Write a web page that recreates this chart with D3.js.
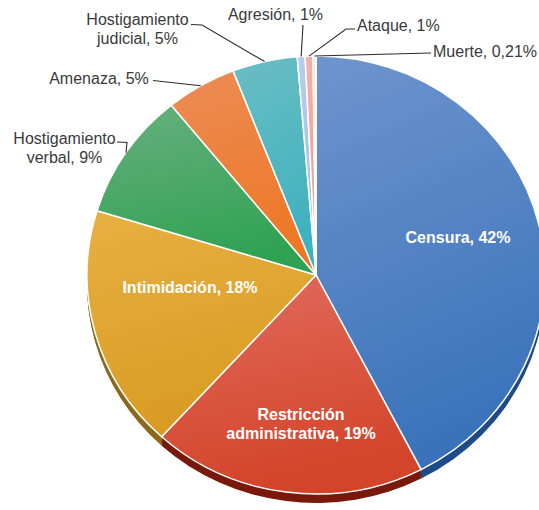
<!DOCTYPE html>
<html><head><meta charset="utf-8">
<script src="https://cdn.jsdelivr.net/npm/d3@7/dist/d3.min.js"></script>
<style>html,body{margin:0;padding:0;background:#fff;overflow:hidden}</style>
</head><body>
<svg id="chart" width="539" height="510"></svg>
<script>
// ---- data ----
const categories = ["Censura", "Restricción administrativa", "Intimidación", "Hostigamiento verbal", "Amenaza", "Hostigamiento judicial", "Agresión", "Ataque", "Muerte"];
const values = [42.5, 19.4, 18.0, 9.4, 5.0, 4.6, 0.55, 0.55, 0.21];
const labelLines = [
  ["Censura, 42%"],
  ["Restricción", "administrativa, 19%"],
  ["Intimidación, 18%"],
  ["Hostigamiento", "verbal, 9%"],
  ["Amenaza, 5%"],
  ["Hostigamiento", "judicial, 5%"],
  ["Agresión, 1%"],
  ["Ataque, 1%"],
  ["Muerte, 0,21%"]
];

// ---- styles / layout ----
const colorTop  = ["#6e95cd", "#e06c5e", "#e8b043", "#68af7e", "#ec8b56", "#6bbdc2", "#b8cdec", "#f6b2ab", "#fbe3d6"];
const colorBase = ["#3b73bb", "#d4442a", "#d99b22", "#30a254", "#ee7825", "#3eb2bf", "#a3bde4", "#f09c93", "#f7d3c0"];
const colorRim  = ["#1f4c8a", "#7a1a0c", "#8c6a1c", "#1d6b33", "#a4501a", "#277a80", "#7089ad", "#b0665f", "#c09a88"];
const cx = 316, cy = 275, rx = 229, ry = 219, depth = 9;
const insideFont = 16, outsideFont = 16, lineGap = 19;
const labelLayout = [
  {x: 458, y: 243, anchor: "middle", inside: true},
  {x: 301, y: 420, anchor: "middle", inside: true},
  {x: 190, y: 293, anchor: "middle", inside: true},
  {x: 64.5, y: 143.5, anchor: "middle", inside: false, leader: [[117, 142], [127, 142.5]]},
  {x: 99, y: 84, anchor: "middle", inside: false, leader: [[153, 80.5]]},
  {x: 137.5, y: 24.5, anchor: "middle", inside: false, leader: [[191, 24.5], [202, 25]]},
  {x: 275.5, y: 20, anchor: "middle", inside: false, leader: [[303, 25]]},
  {x: 357, y: 30.5, anchor: "start", inside: false, leader: [[355, 29], [346, 29]]},
  {x: 433, y: 57, anchor: "start", inside: false, leader: [[431, 53]]}
];

const svg = d3.select("#chart");
const defs = svg.append("defs");
categories.forEach((c, i) => {
  const g = defs.append("linearGradient").attr("id", "g" + i)
    .attr("x1", 0).attr("y1", 0).attr("x2", 0.25).attr("y2", 1);
  g.append("stop").attr("offset", "0%").attr("stop-color", colorTop[i]);
  g.append("stop").attr("offset", "100%").attr("stop-color", colorBase[i]);
});

const data = categories.map((c, i) => ({cat: c, value: values[i], i}));
const pie = d3.pie().sort(null).value(d => d.value).startAngle(0).endAngle(2 * Math.PI);
const arcs = pie(data);
const arc = d3.arc().innerRadius(0).outerRadius(rx);
const sy = ry / rx;

// 3D rim
for (let off = depth; off >= 1; off--) {
  svg.append("g").attr("transform", `translate(${cx},${cy + off}) scale(1,${sy})`)
    .selectAll("path").data(arcs).join("path")
    .attr("d", arc).attr("fill", d => colorRim[d.data.i]);
}
// top face
svg.append("g").attr("transform", `translate(${cx},${cy}) scale(1,${sy})`)
  .selectAll("path").data(arcs).join("path")
  .attr("d", arc)
  .attr("fill", d => `url(#g${d.data.i})`)
  .attr("stroke", "#fff").attr("stroke-width", 1.5)
  .attr("vector-effect", "non-scaling-stroke")
  .attr("stroke-linejoin", "round");

function edgePoint(d) {
  const a = (d.startAngle + d.endAngle) / 2;
  return [cx + rx * Math.sin(a), cy - ry * Math.cos(a)];
}

const line = d3.line();
arcs.forEach(d => {
  const L = labelLayout[d.data.i];
  if (L.inside) return;
  const pts = L.leader.concat([edgePoint(d)]);
  svg.append("path").attr("d", line(pts)).attr("fill", "none")
    .attr("stroke", "#2b2b2b").attr("stroke-width", 1.1);
});

arcs.forEach(d => {
  const i = d.data.i, L = labelLayout[i];
  const t = svg.append("text")
    .attr("text-anchor", L.anchor)
    .attr("font-family", "'Liberation Sans', Arial, sans-serif")
    .attr("font-size", L.inside ? insideFont : outsideFont)
    .attr("font-weight", L.inside ? "bold" : "normal")
    .attr("fill", L.inside ? "#ffffff" : "#3a3a3a");
  labelLines[i].forEach((s, k) => {
    t.append("tspan").attr("x", L.x).attr("y", L.y + k * lineGap).text(s);
  });
});
</script>
</body></html>
